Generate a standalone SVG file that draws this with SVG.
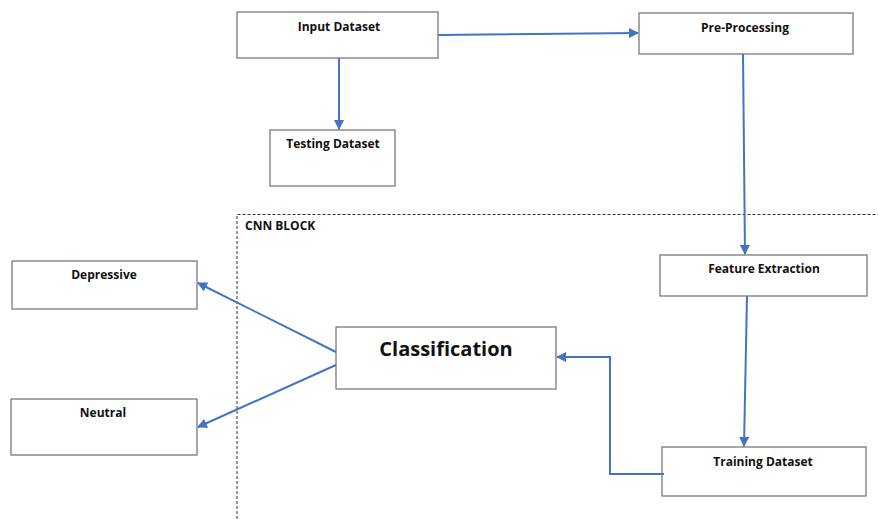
<svg xmlns="http://www.w3.org/2000/svg" width="878" height="519" viewBox="0 0 878 519">
<style>
.box{fill:#fff;stroke:#7a7a7a;stroke-width:1.3}
.lbl{font-family:"Open Sans","Liberation Sans",sans-serif;font-weight:bold;font-size:12px;fill:#111;text-anchor:middle}
.big{font-size:20px}
.con{fill:none;stroke:#4472C4;stroke-width:2;marker-end:url(#ah)}
</style>
<defs>
<marker id="ah" viewBox="0 0 10 10" refX="9" refY="5" markerWidth="5" markerHeight="5" orient="auto" markerUnits="strokeWidth">
<path d="M0,0 L10,5 L0,10 z" fill="#4472C4"/>
</marker>
</defs>
<rect width="878" height="519" fill="#fff"/>
<g id="cnn-block">
<path d="M237,519 V214.5 H878" fill="none" stroke="#333" stroke-width="1" stroke-dasharray="3,2"/>
<text x="245" y="230" class="lbl" style="text-anchor:start">CNN BLOCK</text>
</g>
<g id="input-dataset"><rect class="box" x="237" y="12" width="201" height="46"/><text class="lbl" x="339" y="31">Input Dataset</text></g>
<g id="pre-processing"><rect class="box" x="639" y="13" width="214" height="41"/><text class="lbl" x="745" y="32">Pre-Processing</text></g>
<g id="testing-dataset"><rect class="box" x="270" y="130" width="125" height="56"/><text class="lbl" x="333" y="148">Testing Dataset</text></g>
<g id="feature-extraction"><rect class="box" x="660" y="255" width="207" height="41"/><text class="lbl" x="764" y="273">Feature Extraction</text></g>
<g id="training-dataset"><rect class="box" x="662" y="447" width="204" height="49"/><text class="lbl" x="763" y="466">Training Dataset</text></g>
<g id="classification"><rect class="box" x="336" y="327" width="220" height="62"/><text class="lbl big" x="446" y="356">Classification</text></g>
<g id="depressive"><rect class="box" x="12" y="261" width="185" height="48"/><text class="lbl" x="104" y="279">Depressive</text></g>
<g id="neutral"><rect class="box" x="11" y="399" width="186" height="56"/><text class="lbl" x="103" y="417">Neutral</text></g>
<g id="connectors">
<path class="con" d="M438,35 L638,33"/>
<path class="con" d="M339,58 L339,129"/>
<path class="con" d="M743,54 L745,254"/>
<path class="con" d="M747,296 L744,446"/>
<path class="con" d="M664,474 H610 V357 H557"/>
<path class="con" d="M336,352 L198,283"/>
<path class="con" d="M336,365 L198,427"/>
</g>
</svg>
